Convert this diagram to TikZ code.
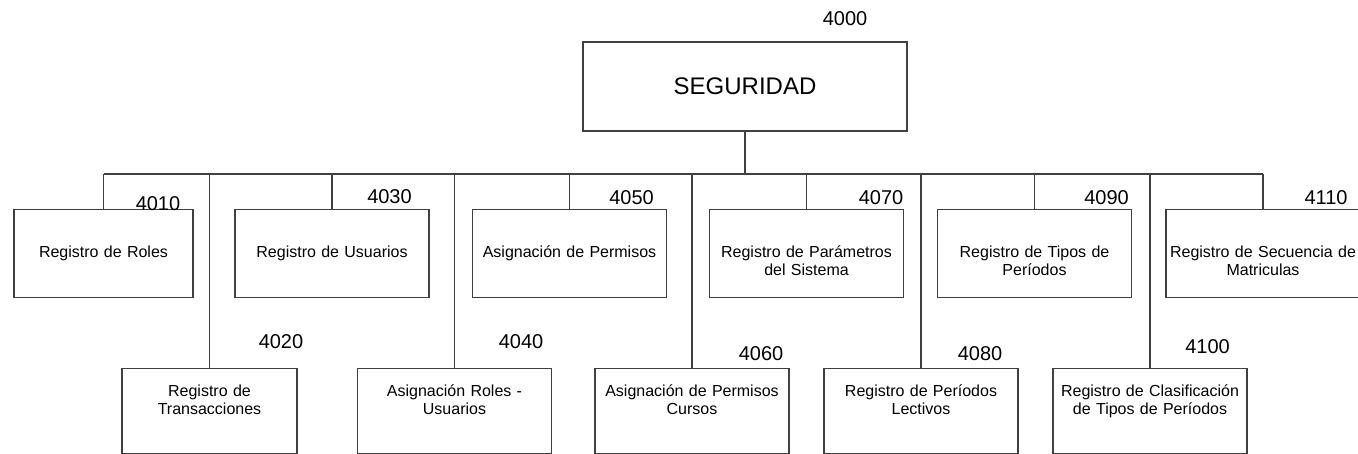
\documentclass[tikz,border=0pt]{standalone}
\usepackage{fontspec}
\setmainfont{Liberation Sans}

\tikzset{
  caja/.style={draw=black!75, line width=0.55pt, anchor=north, inner sep=0pt,
    align=center, text width=97pt, font=\fontsize{8}{9}\selectfont},
  fila1/.style={caja, text height=24pt, text depth=20pt},
  fila2/.style={caja, text height=14pt, text depth=28.5pt},
  numero/.style={inner sep=0pt, font=\fontsize{10}{12}\selectfont},
  enlace/.style={draw=black!75, line width=0.55pt}
}

\begin{document}
\begin{tikzpicture}[x=0.5pt, y=-0.5pt]
        \useasboundingbox (0,0) rectangle (1358,454);
        % modulo principal
        \node (seg) [draw=black!75, line width=0.55pt, minimum width=162pt, minimum height=44.5pt, font=\fontsize{12}{14}\selectfont] at (745,86.5) {SEGURIDAD};
        \node (n4000) [numero] at (845,19) {4000};
        \coordinate (bus) at (745,174);
        % primera fila
        \node (r4010) [fila1, text width=89.5pt] at (103.5,209) {Registro de Roles};
        \node (r4030) [fila1] at (332,209) {Registro de Usuarios};
        \node (r4050) [fila1] at (569.5,209) {Asignación de Permisos};
        \node (r4070) [fila1] at (806.5,209) {Registro de Parámetros\\del Sistema};
        \node (r4090) [fila1] at (1034.5,209) {Registro de Tipos de\\Períodos};
        \node (r4110) [fila1] at (1263,209) {Registro de Secuencia de\\Matriculas};
        % segunda fila
        \node (b4020) [fila2, text width=87.5pt] at (209.5,368) {Registro de\\Transacciones};
        \node (b4040) [fila2] at (454.5,368) {Asignación Roles -\\Usuarios};
        \node (b4060) [fila2] at (692,368) {Asignación de Permisos\\Cursos};
        \node (b4080) [fila2] at (921,368) {Registro de Períodos\\Lectivos};
        \node (b4100) [fila2] at (1150,368) {Registro de Clasificación\\de Tipos de Períodos};
        % codigos
        \node (n4010) [numero] at (158,204) {4010};
        \node (n4030) [numero] at (389.5,196.5) {4030};
        \node (n4050) [numero] at (631.5,198) {4050};
        \node (n4070) [numero] at (881,198) {4070};
        \node (n4090) [numero] at (1106.5,198) {4090};
        \node (n4110) [numero] at (1326,198) {4110};
        \node (n4020) [numero] at (281,342) {4020};
        \node (n4040) [numero] at (521,342) {4040};
        \node (n4060) [numero] at (761,354) {4060};
        \node (n4080) [numero] at (980,354) {4080};
        \node (n4100) [numero] at (1207.5,347) {4100};
        % lineas
        \draw [enlace] (seg.south) -- (bus);
        \draw [enlace] (r4010.north |- bus) -- (r4110.north |- bus);
        \foreach \m in {r4010,r4030,r4050,r4070,r4090,r4110,b4020,b4040,b4060,b4080,b4100}
          \draw [enlace] (\m.north |- bus) -- (\m.north);
    \end{tikzpicture}
\end{document}
